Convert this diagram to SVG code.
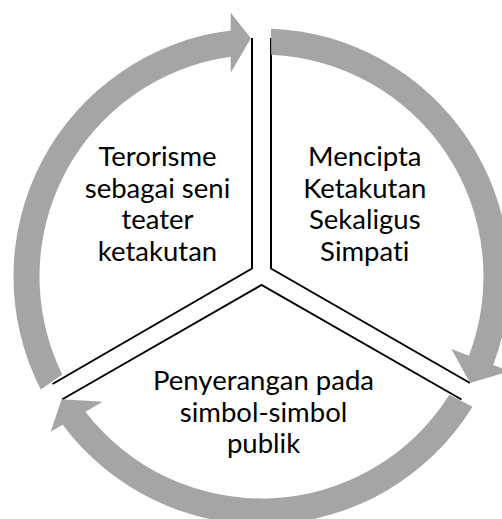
<svg xmlns="http://www.w3.org/2000/svg" width="502" height="519" viewBox="0 0 502 519">
<style>
.sector{fill:#ffffff;stroke:none}
.edge{fill:none;stroke:#000000;stroke-width:2;stroke-linejoin:miter}
.arrow{fill:#A5A5A5;stroke:none}
.label{font-family:Lato,"Open Sans",sans-serif;font-size:27.5px;fill:#000000;text-anchor:middle;font-variant-ligatures:none;font-feature-settings:"liga" 0,"clig" 0}
</style>
<rect width="502" height="519" fill="#ffffff"/>
<g id="node-terorisme">
<path class="sector" d="M252,38 L252,268.5 L52.5,384 A236,236 0 0 1 252,38 Z"/>
<polyline class="edge" points="252,38 252,268.5 52.5,384"/>
<text class="label"><tspan x="157.5" y="166">Terorisme</tspan><tspan x="157.5" y="197.7">sebagai seni</tspan><tspan x="157.5" y="229.4">teater</tspan><tspan x="157.5" y="261.1">ketakutan</tspan></text>
</g>
<g id="node-mencipta">
<path class="sector" d="M271,38 L271,268.5 L470,383 A236,236 0 0 0 271,38 Z"/>
<polyline class="edge" points="271,38 271,268.5 470,383"/>
<text class="label"><tspan x="364.8" y="166">Mencipta</tspan><tspan x="364.8" y="197.7">Ketakutan</tspan><tspan x="364.8" y="229.4">Sekaligus</tspan><tspan x="364.8" y="261.1">Simpati</tspan></text>
</g>
<g id="node-penyerangan">
<path class="sector" d="M62,399.5 L261.5,285 L461.5,399.5 A236,236 0 0 1 62,399.5 Z"/>
<polyline class="edge" points="62,399.5 261.5,285 461.5,399.5"/>
<text class="label"><tspan x="263.5" y="390">Penyerangan pada</tspan><tspan x="263.5" y="421.7">simbol-simbol</tspan><tspan x="263.5" y="453.4">publik</tspan></text>
</g>
<g id="connectors">
<path class="arrow" d="M40.73,389.47 A248,248 0 0 1 230.7,30.42 L230.7,12.7 L250.9,38.3 L230.7,72.7 L230.7,56.65 A222,222 0 0 0 62.31,374.52 Z"/>
<path class="arrow" d="M271.02,28.68 A248,248 0 0 1 493.18,364.97 L509.53,371.21 L470.1,383 L451.42,349.03 L468.89,355.7 A222,222 0 0 0 271.18,54.71 Z"/>
<path class="arrow" d="M472.5,406.82 A248,248 0 0 1 62.71,424.77 L50.7,431.7 L61.7,399.3 L102.7,401.7 L85.4,411.68 A222,222 0 0 0 449.35,394.8 Z"/>
</g>
</svg>
